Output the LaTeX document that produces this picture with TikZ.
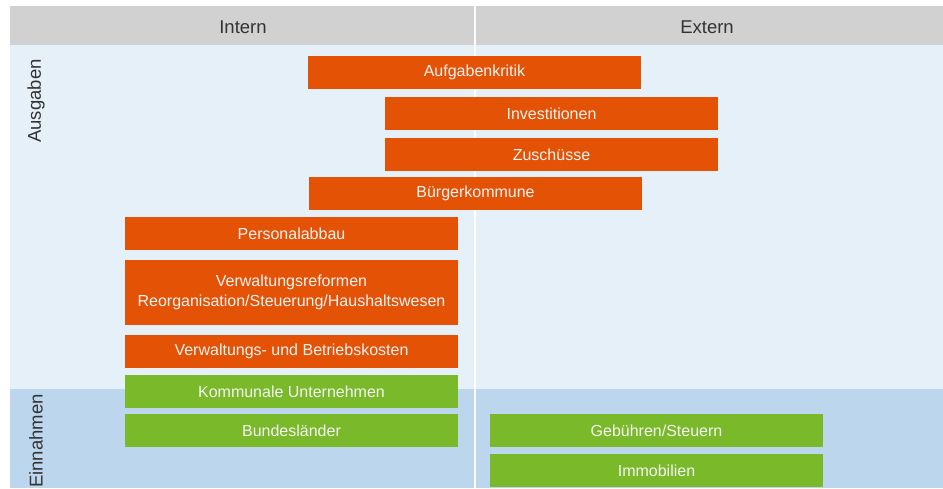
\documentclass[tikz,border=0pt]{standalone}
\usepackage{fontspec}
\setmainfont{Liberation Sans}
\usepackage{tikz}
\usetikzlibrary{positioning}
\usepackage{xcolor}
\definecolor{headgray}{HTML}{D0D1D0}
\definecolor{paleblue}{HTML}{E6F0F9}
\definecolor{midblue}{HTML}{BCD6EE}
\definecolor{ausorange}{HTML}{E35205}
\definecolor{eingreen}{HTML}{7AB929}
\definecolor{boxtext}{HTML}{F4F4F4}
\definecolor{headtext}{HTML}{333333}

\begin{document}
\begin{tikzpicture}[x=1pt,y=-1pt,
  measure/.style={rectangle,minimum width=333pt,minimum height=33pt,inner sep=0pt,
    text=boxtext,font=\fontsize{16}{20}\selectfont,align=center},
  spend/.style={measure,fill=ausorange},
  income/.style={measure,fill=eingreen},
  head/.style={text=headtext,font=\fontsize{18.5}{20}\selectfont},
  side/.style={head,rotate=90}]
\useasboundingbox (0,0) rectangle (943,488);
% bands
\fill[headgray] (10,6) rectangle (943,45);
\fill[paleblue] (10,45) rectangle (943,389);
\fill[midblue] (10,389) rectangle (943,488);
\draw[white,line width=2pt] (475,6) -- (475,488);
% labels
\node[head] (intern) at (243,27) {Intern};
\node[head] (extern) at (707,27) {Extern};
\node[side] (ausg) at (36,101) {Ausgaben};
\node[side] (einn) at (36,441) {Einnahmen};
% Ausgaben
\node[spend] (kritik) at (474.5,72.5) {Aufgabenkritik};
\node[spend] (invest) at (551.5,113.5) {Investitionen};
\node[spend] (zusch) at (551.5,154.5) {Zuschüsse};
\node[spend] (buerger) at (475.5,193.5) {Bürgerkommune};
\node[spend] (personal) at (291.5,233.5) {Personalabbau};
\node[spend,minimum height=65pt] (reform) at (291.5,292.5) {Verwaltungsreformen\\Reorganisation/Steuerung/Haushaltswesen};
\node[spend] (kosten) at (291.5,351.5) {Verwaltungs- und Betriebskosten};
% Einnahmen
\node[income] (kommunal) at (291.5,391.5) {Kommunale Unternehmen};
\node[income] (laender) at (291.5,430.5) {Bundesländer};
\node[income] (gebuehr) at (656.5,430.5) {Gebühren/Steuern};
\node[income] (immo) at (656.5,470.5) {Immobilien};
\end{tikzpicture}
\end{document}
